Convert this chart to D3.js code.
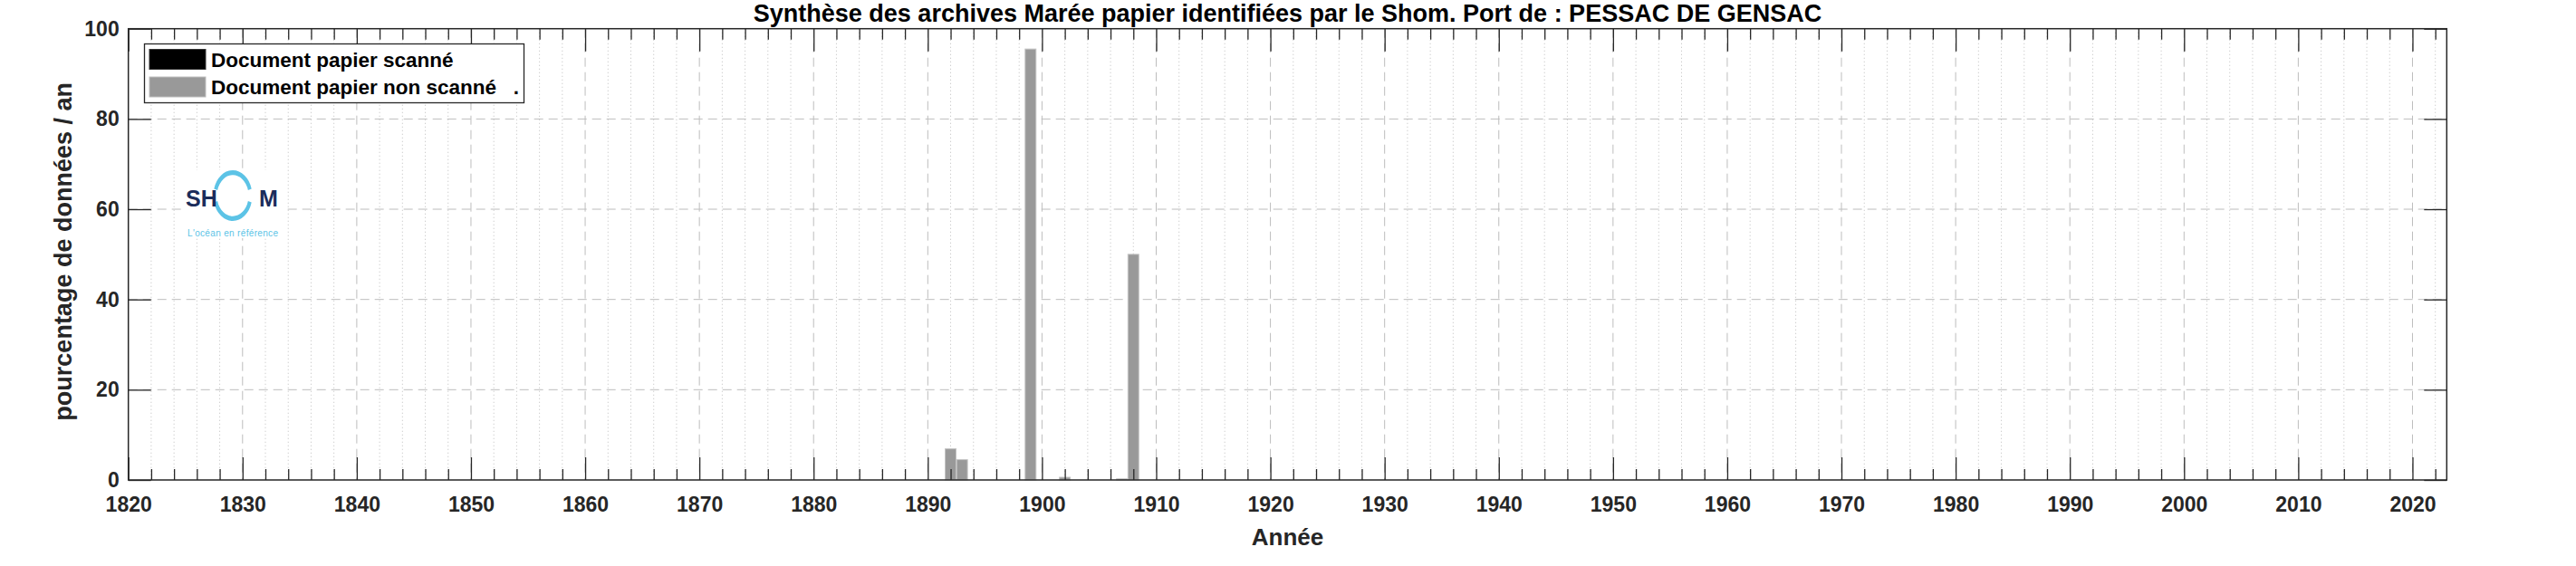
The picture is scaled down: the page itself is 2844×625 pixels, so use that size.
<!DOCTYPE html>
<html>
<head>
<meta charset="utf-8">
<script src="https://cdn.jsdelivr.net/npm/d3@7"></script>
<style>
  html, body { margin: 0; padding: 0; background: #fff; }
  svg { display: block; font-family: "Liberation Sans", Arial, Helvetica, sans-serif; }
</style>
</head>
<body>
<svg id="chart" width="2844" height="625"></svg>
<script>
// ---------- data ----------
const titleText = "Synthèse des archives Marée papier identifiées par le Shom. Port de : PESSAC DE GENSAC";
const xLabel = "Année";
const yLabel = "pourcentage de données / an";
const legendLabels = ["Document papier scanné", "Document papier non scanné   ."];
const years = [1892, 1893, 1899, 1902, 1907, 1908];
const scanned = [0, 0, 0, 0, 0, 0];
const nonScanned = [6.9, 4.5, 95.5, 0.6, 0.25, 50.0];
const xDomain = [1820, 2023];
const yDomain = [0, 100];
const xMajorTicks = d3.range(1820, 2021, 10);
const xMinorTicks = d3.range(1822, 2023, 2).filter(v => v % 10 !== 0);
const yTicks = [0, 20, 40, 60, 80, 100];

// ---------- layout ----------
const L = 141.7, R = 2701.3, T = 31.7, B = 530;
const svg = d3.select("#chart");
const x = d3.scaleLinear().domain(xDomain).range([L, R]);
const y = d3.scaleLinear().domain(yDomain).range([B, T]);
const axisColor = "#262626";

// grid
const grid = svg.append("g");
grid.selectAll("line.minx").data(xMinorTicks).join("line")
  .attr("x1", d => x(d)).attr("x2", d => x(d)).attr("y1", T).attr("y2", B)
  .attr("stroke", "#c8c8c8").attr("stroke-width", 1).attr("stroke-dasharray", "1.2,2.8");
grid.selectAll("line.majx").data(xMajorTicks.filter(v => v > xDomain[0])).join("line")
  .attr("x1", d => x(d)).attr("x2", d => x(d)).attr("y1", T).attr("y2", B)
  .attr("stroke", "#bdbdbd").attr("stroke-width", 1).attr("stroke-dasharray", "10,6");
grid.selectAll("line.majy").data(yTicks.filter(v => v > 0 && v < 100)).join("line")
  .attr("x1", L).attr("x2", R).attr("y1", d => y(d)).attr("y2", d => y(d))
  .attr("stroke", "#bdbdbd").attr("stroke-width", 1).attr("stroke-dasharray", "10,6");

// bars (stacked: scanned then non-scanned)
const bw = 0.95;
const bars = svg.append("g");
bars.selectAll("rect.sc").data(years.map((yr, i) => ({yr, v: scanned[i]}))).join("rect")
  .attr("x", d => x(d.yr - bw / 2)).attr("width", d => x(d.yr + bw / 2) - x(d.yr - bw / 2))
  .attr("y", d => y(d.v)).attr("height", d => y(0) - y(d.v))
  .attr("fill", "#000");
bars.selectAll("rect.ns").data(years.map((yr, i) => ({yr, b: scanned[i], v: nonScanned[i]}))).join("rect")
  .attr("x", d => x(d.yr - bw / 2)).attr("width", d => x(d.yr + bw / 2) - x(d.yr - bw / 2))
  .attr("y", d => y(d.b + d.v)).attr("height", d => y(d.b) - y(d.b + d.v))
  .attr("fill", "#999999").attr("stroke", "#c4c4c4").attr("stroke-width", 1);

// axes
function styleAxis(g) {
  g.select(".domain").remove();
  g.selectAll(".tick line").attr("stroke", axisColor).attr("stroke-width", 1.3);
  g.selectAll(".tick text").attr("fill", axisColor)
    .style("font-size", "23px").style("font-weight", "bold");
}
svg.append("g").attr("transform", `translate(0,${B})`)
  .call(d3.axisBottom(x).tickValues(xMajorTicks).tickFormat(d3.format("d")).tickSize(-25).tickPadding(19))
  .call(styleAxis);
svg.append("g").attr("transform", `translate(0,${B})`)
  .call(d3.axisBottom(x).tickValues(xMinorTicks).tickFormat("").tickSize(-12))
  .call(styleAxis);
svg.append("g").attr("transform", `translate(0,${T})`)
  .call(d3.axisTop(x).tickValues(xMajorTicks).tickFormat("").tickSize(-25))
  .call(styleAxis);
svg.append("g").attr("transform", `translate(0,${T})`)
  .call(d3.axisTop(x).tickValues(xMinorTicks).tickFormat("").tickSize(-12))
  .call(styleAxis);
svg.append("g").attr("transform", `translate(${L},0)`)
  .call(d3.axisLeft(y).tickValues(yTicks).tickSize(-25).tickPadding(10))
  .call(styleAxis);
svg.append("g").attr("transform", `translate(${R},0)`)
  .call(d3.axisRight(y).tickValues(yTicks).tickFormat("").tickSize(-25))
  .call(styleAxis);

// frame
svg.append("rect").attr("x", L).attr("y", T).attr("width", R - L).attr("height", B - T)
  .attr("fill", "none").attr("stroke", axisColor).attr("stroke-width", 1.5);

// title and labels
svg.append("text").attr("x", (L + R) / 2).attr("y", 24).attr("text-anchor", "middle")
  .style("font-size", "27px").style("font-weight", "bold").attr("fill", "#000").text(titleText);
svg.append("text").attr("x", (L + R) / 2).attr("y", 602).attr("text-anchor", "middle")
  .style("font-size", "26px").style("font-weight", "bold").attr("fill", axisColor).text(xLabel);
svg.append("text").attr("transform", `translate(79,${(T + B) / 2 - 3}) rotate(-90)`).attr("text-anchor", "middle")
  .style("font-size", "27px").style("font-weight", "bold").attr("fill", axisColor).text(yLabel);

// legend
const lg = svg.append("g");
lg.append("rect").attr("x", 159.5).attr("y", 48.5).attr("width", 419).attr("height", 65)
  .attr("fill", "#fff").attr("stroke", axisColor).attr("stroke-width", 1.3);
const swatchColors = ["#000000", "#999999"];
legendLabels.forEach((lab, i) => {
  const cy = 65.5 + i * 30.5;
  lg.append("rect").attr("x", 165).attr("y", cy - 11).attr("width", 62).attr("height", 22)
    .attr("fill", swatchColors[i]).attr("stroke", i ? "#bdbdbd" : "#333").attr("stroke-width", 1);
  lg.append("text").attr("x", 233).attr("y", cy + 8).attr("xml:space", "preserve")
    .style("white-space", "pre").style("font-size", "22.5px").style("font-weight", "bold")
    .attr("fill", "#000").text(lab);
});

// SHOM logo
const logo = svg.append("g");
logo.append("rect").attr("x", 200).attr("y", 188).attr("width", 112).attr("height", 75).attr("fill", "#fff");
const arc = d3.arc().innerRadius(17.5).outerRadius(21.5);
const ring = logo.append("g").attr("transform", "translate(257,216) scale(1,1.3)");
ring.append("path").attr("d", arc({startAngle: -1.3, endAngle: 1.3})).attr("fill", "#5cc3e6");
ring.append("path").attr("d", arc({startAngle: Math.PI - 1.3, endAngle: Math.PI + 1.3})).attr("fill", "#5cc3e6");
logo.append("text").attr("x", 205).attr("y", 228).style("font-size", "25px").style("font-weight", "bold")
  .attr("fill", "#1b2d5b").text("SH");
logo.append("text").attr("x", 286).attr("y", 228).style("font-size", "25px").style("font-weight", "bold")
  .attr("fill", "#1b2d5b").text("M");
logo.append("text").attr("x", 207).attr("y", 261).style("font-size", "10px")
  .attr("fill", "#5cc3e6").attr("textLength", 100).text("L'océan en référence");
</script>
</body>
</html>
